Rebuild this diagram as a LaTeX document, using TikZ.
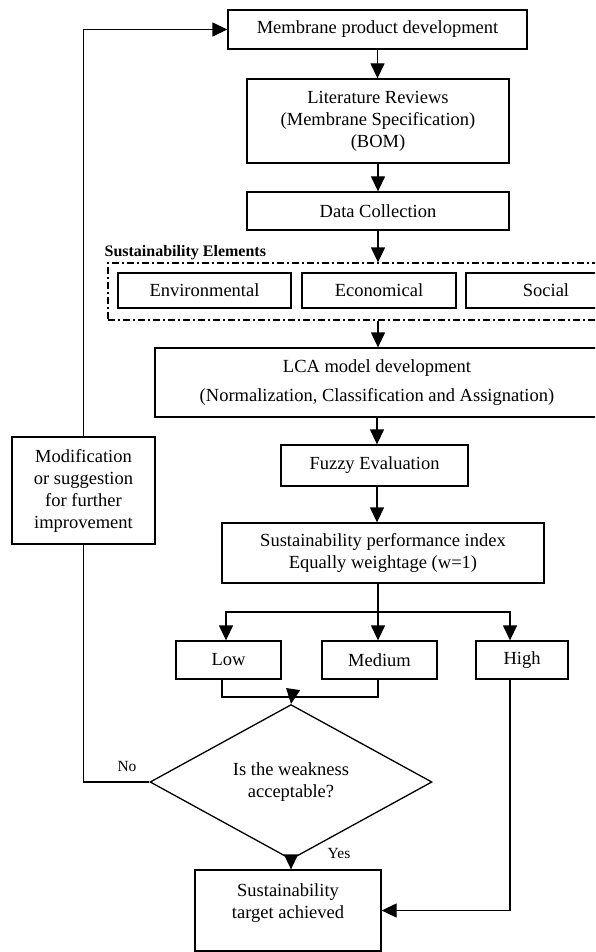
\documentclass[tikz,border=0pt]{standalone}
\usepackage{fontspec}
\setmainfont{Liberation Serif}
\usetikzlibrary{arrows.meta,shapes.geometric}

\begin{document}
\begin{tikzpicture}[x=1pt, y=-1pt, >={Triangle[length=15pt,width=14pt]}, line width=1.3pt,
  font=\fontsize{18.5}{22}\selectfont]
\tikzset{
  flowbox/.style={draw, align=center, inner sep=2pt},
  flowdec/.style={draw, diamond, align=center, inner sep=0pt, minimum width=282, minimum height=114},
  flowgroup/.style={draw, dash pattern=on 7pt off 3pt on 2pt off 3pt, minimum width=532, minimum height=57, inner sep=0pt},
  flowlbl/.style={font=\fontsize{15.5}{18}\selectfont, inner sep=1pt}
}
\useasboundingbox (0,0) rectangle (595,952);
\clip (0,0) rectangle (595,952);

\node[flowbox, minimum width=299, minimum height=39] (prod) at (377.5,29.5) {Membrane product development};
\node[flowbox, minimum width=262, minimum height=84] (lit) at (378,121) {Literature Reviews\\(Membrane Specification)\\(BOM)};
\node[flowbox, minimum width=262, minimum height=38] (data) at (378,211) {Data Collection};

\node[flowgroup] (elems) at (374,291.5) {};
\node[anchor=base west, font=\fontsize{16}{18}\selectfont\bfseries, inner sep=0pt] (elemlbl) at (104,256) {Sustainability Elements};
\node[flowbox, minimum width=173, minimum height=35] (env) at (204.5,290.5) {Environmental};
\node[flowbox, minimum width=154, minimum height=35] (eco) at (379,290.5) {Economical};
\node[flowbox, minimum width=160, minimum height=35] (soc) at (546,290.5) {Social};

\node[flowbox, minimum width=444, minimum height=69] (lca) at (377,382.5) {\raisebox{-3pt}{LCA model development}\\[7pt]\raisebox{-3pt}{(Normalization, Classification and Assignation)}};
\node[flowbox, minimum width=187, minimum height=41] (fuzzy) at (374.5,465.5) {Fuzzy Evaluation};
\node[flowbox, minimum width=322, minimum height=60] (spi) at (383,553) {Sustainability performance index\\Equally weightage (w=1)};

\node[flowbox, minimum width=105, minimum height=38] (low) at (228.5,660) {Low};
\node[flowbox, minimum width=115, minimum height=38] (med) at (379.5,660) {Medium};
\node[flowbox, minimum width=92, minimum height=38] (high) at (522,660) {High};

\node[flowdec] (accept) at (291,782) {Is the weakness\\acceptable?};
\node[flowbox, minimum width=143, minimum height=107] (modif) at (83.5,490.5) {Modification\\or suggestion\\for further\\improvement};
\node[flowbox, minimum width=186, minimum height=81] (target) at (288,910.5) {Sustainability\\target achieved\\[-4pt]\mbox{}};

\coordinate (split) at (378,612);
\coordinate (join) at (292,697);

% main column
\draw[->] (prod.south) -- (prod.south |- lit.north);
\draw[->] (lit.south) -- (lit.south |- data.north);
\draw[->] (data.south) -- (data.south |- elems.north);
\draw[->] (data.south |- elems.south) -- (data.south |- lca.north);
\draw[->] (lca.south) -- (lca.south |- fuzzy.north);
\draw[->] (lca.south |- fuzzy.south) -- (lca.south |- spi.north);

% index levels
\draw (split |- spi.south) -- (split);
\draw[->] (split) -| ([xshift=-2.5pt]low.north);
\draw[->] (split) -- (split |- med.north);
\draw[->] (split) -| ([xshift=-12pt]high.north);
\draw ([xshift=-6.5pt]low.south) |- (join) -| ([xshift=-1.5pt]med.south);
\draw[->] (join) -- (accept.north);

% decision
\draw (accept.west) -| (modif.south);
\draw[->] (modif.north) |- (prod.west);
\node[flowlbl] (nolbl) at (127,766) {No};
\draw[->] (accept.south) -- (accept.south |- target.north);
\node[flowlbl] (yeslbl) at (339,853) {Yes};
\draw[->] ([xshift=-12pt]high.south) |- (target.east);
\end{tikzpicture}
\end{document}
